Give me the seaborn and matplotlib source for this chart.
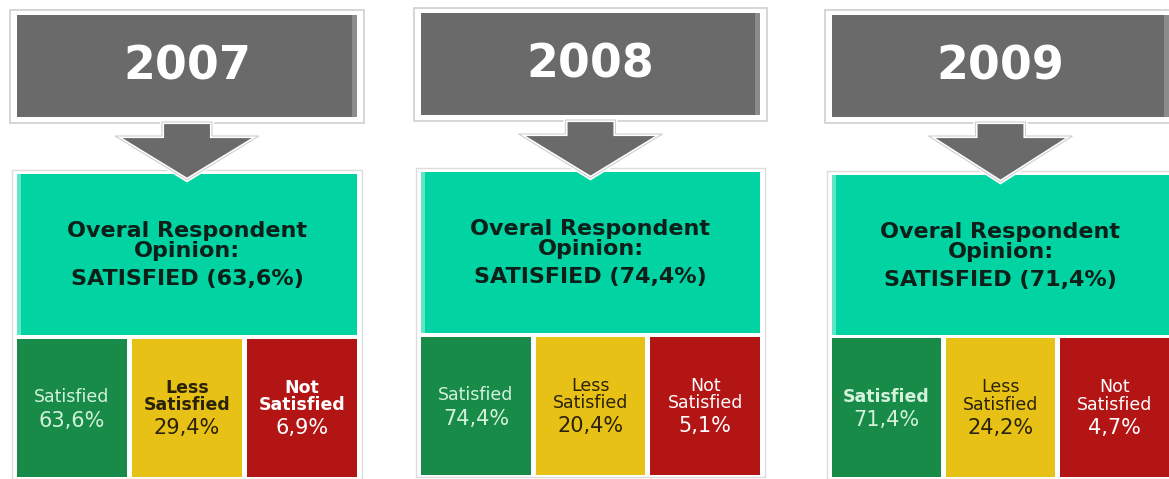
import matplotlib.pyplot as plt
import matplotlib.patches as mpatches
import seaborn as sns

# data
years = ["2007", "2008", "2009"]
satisfied = [63.6, 74.4, 71.4]
less_satisfied = [29.4, 20.4, 24.2]
not_satisfied = [6.9, 5.1, 4.7]
categories = ["Satisfied", "Less\nSatisfied", "Not\nSatisfied"]
overall_label = "SATISFIED"

sns.set_style("white")
plt.rcParams['font.family'] = ['DejaVu Sans']

# layout (pixels)
panel_x = [17, 421, 832]
panel_w = [340, 339, 337]
gray_y = [(15, 117), (13, 115), (15, 117)]
tip_y = [180, 178, 182]
teal_y = [(174, 335), (172, 333), (175, 335)]
cell_y = [(339, 477), (337, 475), (338, 477)]
# bold flags for cell labels per panel (as in the original slide)
label_bold = [[False, True, True], [False, False, False], [True, False, False]]

gray = "#6a6a6a"
teal = "#02d3a2"
cell_colors = ["#178b47", "#e8c116", "#b31414"]
label_colors = ["#d3f2dc", "#2a2208", "white"]


def pct(v):
    return f"{v:.1f}".replace(".", ",") + "%"


fig = plt.figure(figsize=(11.69, 4.79), dpi=100)
ax = fig.add_axes([0, 0, 1, 1])
ax.set_xlim(0, 1169)
ax.set_ylim(479, 0)
ax.axis("off")

for i, year in enumerate(years):
    x0, w = panel_x[i], panel_w[i]
    cx = x0 + w / 2
    g0, g1 = gray_y[i]

    # year box
    ax.add_patch(mpatches.Rectangle((x0 - 7, g0 - 5), w + 14, g1 - g0 + 11,
                                    facecolor="white", edgecolor="#d0d0d0", lw=1.2))
    ax.add_patch(mpatches.Rectangle((x0, g0), w, g1 - g0,
                                    facecolor=gray, edgecolor="none"))
    ax.add_patch(mpatches.Rectangle((x0 + w - 5, g0), 5, g1 - g0,
                                    facecolor="#8c8c8c", edgecolor="none"))
    ax.text(cx, (g0 + g1) / 2 + 1, year, color="white", fontsize=33,
            fontweight="bold", ha="center", va="center")

    # arrow
    t = tip_y[i]
    arrow = [(cx - 25, g1 + 5), (cx + 25, g1 + 5), (cx + 25, g1 + 19), (cx + 72, g1 + 19),
             (cx, t), (cx - 72, g1 + 19), (cx - 25, g1 + 19)]
    ax.add_patch(mpatches.Polygon(arrow, closed=True, facecolor=gray,
                                  edgecolor="white", lw=3, zorder=3))
    ax.add_patch(mpatches.Polygon(arrow, closed=True, facecolor="none",
                                  edgecolor="#cfcfcf", lw=0.8, zorder=3))

    # overall box
    t0, t1 = teal_y[i]
    ax.add_patch(mpatches.Rectangle((x0 - 5, t0 - 4), w + 10, (cell_y[i][1] - t0) + 6,
                                    facecolor="white", edgecolor="#dcdcdc", lw=1))
    ax.add_patch(mpatches.Rectangle((x0, t0), w, t1 - t0,
                                    facecolor=teal, edgecolor="none", zorder=2))
    ax.add_patch(mpatches.Rectangle((x0, t0), 4, t1 - t0,
                                    facecolor="#5fe6c4", edgecolor="none", zorder=2))
    ax.text(cx, t0 + 57, "Overal Respondent", color="#0c1f18",
            fontsize=16, fontweight="bold", ha="center", va="center", zorder=4)
    ax.text(cx, t0 + 77, "Opinion:", color="#0c1f18",
            fontsize=16, fontweight="bold", ha="center", va="center", zorder=4)
    ax.text(cx, t0 + 105, f"{overall_label} ({pct(satisfied[i])})", color="#0c1f18",
            fontsize=16, fontweight="bold", ha="center", va="center", zorder=4)

    # category cells
    c0, c1 = cell_y[i]
    cmid = (c0 + c1) / 2
    cw = (w - 10) / 3
    vals = [satisfied[i], less_satisfied[i], not_satisfied[i]]
    for j, cat in enumerate(categories):
        left = x0 + j * (cw + 5)
        ax.add_patch(mpatches.Rectangle((left, c0), cw, c1 - c0,
                                        facecolor=cell_colors[j], edgecolor="none", zorder=2))
        ccx = left + cw / 2
        lines = cat.split("\n")
        weight = "bold" if label_bold[i][j] else "normal"
        if len(lines) == 1:
            ys = [cmid - 11]
            vy = cmid + 13
        else:
            ys = [cmid - 20, cmid - 3]
            vy = cmid + 20
        for line, ly in zip(lines, ys):
            ax.text(ccx, ly, line, color=label_colors[j], fontsize=12.5,
                    fontweight=weight, ha="center", va="center", zorder=4)
        ax.text(ccx, vy, pct(vals[j]), color=label_colors[j], fontsize=15,
                ha="center", va="center", zorder=4)

plt.savefig("out.png", dpi=100)
